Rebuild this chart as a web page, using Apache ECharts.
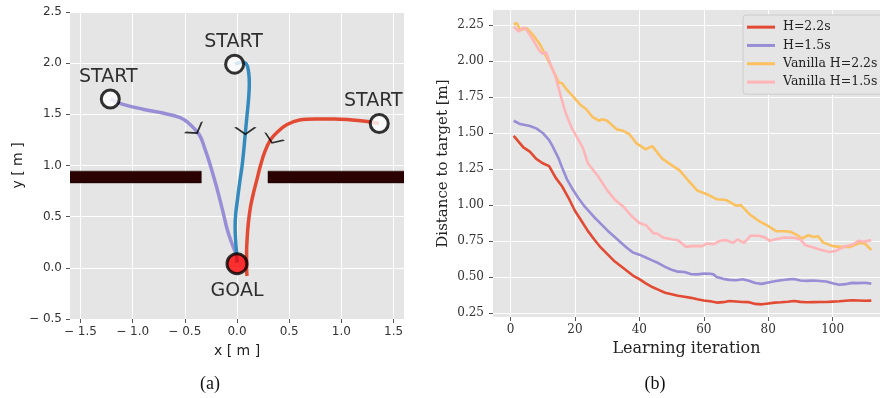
<!DOCTYPE html>
<html>
<head>
<meta charset="utf-8">
<script src="https://cdn.jsdelivr.net/npm/echarts@6.0.0/dist/echarts.min.js"></script>
<style>
html,body{margin:0;padding:0;background:#fff;}
#chart{width:880px;height:398px;}
</style>
</head>
<body>
<div id="chart"></div>
<script>
// ---------- Panel (a): trajectories ----------
var trajPurple = [[-1.21,1.65],[-1.1,1.6],[-0.9,1.55],[-0.7,1.51],[-0.55,1.47],[-0.47,1.42],[-0.4,1.35],[-0.35,1.28],[-0.31,1.17],[-0.27,1.05],[-0.215,0.86],[-0.18,0.73],[-0.135,0.55],[-0.095,0.38],[-0.05,0.24],[-0.015,0.15],[0.0,0.1]];
var trajBlue = [[-0.02,1.99],[0.05,2.01],[0.1,1.97],[0.118,1.8],[0.11,1.64],[0.095,1.48],[0.08,1.32],[0.065,1.15],[0.048,0.99],[0.025,0.83],[0.005,0.67],[-0.012,0.53],[-0.018,0.4],[-0.012,0.25],[-0.003,0.12],[0.0,0.05]];
var trajRed = [[1.36,1.41],[1.25,1.43],[1.1,1.445],[0.93,1.455],[0.75,1.455],[0.6,1.445],[0.48,1.4],[0.39,1.33],[0.32,1.25],[0.265,1.13],[0.225,1.0],[0.19,0.86],[0.16,0.74],[0.13,0.6],[0.11,0.45],[0.098,0.3],[0.092,0.15],[0.092,0.0],[0.096,-0.08]];
var startPoints = [[-1.214,1.65],[-0.023,1.99],[1.363,1.41]];
var goalPoint = [[0.0,0.04]];
var arrowMarks = [[-0.40,1.346,32],[0.08,1.34,0],[0.348,1.253,-22]]; // x, y, heading
var walls = [[-1.7,-0.342,0.83,0.945],[0.297,1.7,0.83,0.945]]; // x0, x1, y0, y1
var aXTicks = [-1.5,-1.0,-0.5,0.0,0.5,1.0,1.5];

// ---------- Panel (b): learning curves ----------
var seriesNames = ['H=2.2s','H=1.5s','Vanilla H=2.2s','Vanilla H=1.5s'];
var redH22 = [[1,1.48],[4,1.40],[6,1.37],[8,1.32],[10,1.29],[12,1.27],[14,1.19],[16,1.13],[18,1.05],[20,0.96],[22,0.89],[24,0.82],[26,0.76],[28,0.705],[30,0.66],[32,0.615],[34,0.58],[36,0.545],[38,0.51],[40,0.485],[42,0.455],[44,0.43],[46,0.41],[48,0.39],[50,0.38],[52,0.37],[54,0.363],[56,0.355],[58,0.345],[60,0.337],[62,0.331],[64,0.322],[66,0.325],[68,0.333],[70,0.33],[72,0.326],[74,0.325],[76,0.313],[78,0.31],[80,0.316],[82,0.322],[84,0.324],[86,0.328],[88,0.333],[90,0.327],[92,0.324],[94,0.325],[96,0.326],[98,0.326],[100,0.329],[102,0.331],[104,0.335],[106,0.338],[108,0.337],[110,0.335],[112,0.336]];
var purpleH15 = [[1,1.585],[3,1.562],[6,1.548],[8,1.532],[10,1.50],[12,1.45],[13,1.41],[15,1.32],[16,1.26],[17.5,1.18],[19,1.12],[21,1.05],[23,0.99],[26,0.915],[28,0.87],[30,0.825],[32,0.785],[34,0.745],[36,0.705],[38,0.67],[40,0.655],[42,0.635],[44,0.615],[46,0.595],[48,0.57],[50,0.55],[52,0.537],[54,0.535],[56,0.52],[58,0.518],[60,0.523],[62,0.522],[63,0.518],[64,0.50],[66,0.487],[68,0.48],[70,0.477],[72,0.484],[74,0.474],[76,0.458],[78,0.452],[80,0.462],[82,0.47],[84,0.477],[86,0.483],[88,0.486],[90,0.476],[92,0.473],[94,0.476],[96,0.472],[98,0.468],[100,0.456],[102,0.446],[104,0.45],[106,0.459],[108,0.457],[110,0.46],[112,0.454]];
var orangeV22 = [[1,2.255],[2,2.262],[3,2.216],[5,2.228],[7,2.181],[9,2.12],[11,2.035],[13,1.945],[15,1.85],[16,1.845],[17.5,1.80],[19.5,1.752],[21.5,1.70],[23.5,1.665],[25.5,1.61],[27.5,1.585],[28.5,1.595],[30,1.585],[33,1.525],[35,1.515],[37,1.49],[39,1.43],[42,1.386],[44,1.409],[47,1.324],[50,1.277],[52.5,1.24],[55,1.175],[58,1.10],[61.5,1.069],[64,1.04],[67,1.034],[70,0.995],[71.5,0.999],[74.5,0.93],[77,0.89],[79.5,0.86],[82.5,0.818],[85,0.818],[87,0.813],[89,0.79],[90.5,0.767],[92.5,0.79],[94,0.778],[95.5,0.783],[97,0.74],[100,0.714],[102.5,0.709],[105.5,0.709],[108.5,0.737],[110,0.733],[112,0.686]];
var pinkV15 = [[1,2.24],[2.5,2.204],[4,2.232],[5,2.216],[7,2.147],[9,2.07],[10,2.05],[11,2.061],[12.5,1.972],[14,1.89],[15.5,1.764],[17,1.648],[19,1.535],[21,1.455],[22.5,1.395],[24,1.29],[27,1.205],[30,1.103],[32.5,1.034],[35,0.99],[37.5,0.925],[40,0.875],[42,0.86],[44.5,0.802],[45.5,0.802],[47.5,0.772],[50.5,0.76],[52,0.755],[54.5,0.709],[57,0.716],[59.5,0.714],[61,0.733],[63,0.728],[65,0.751],[67,0.756],[69,0.737],[70.5,0.76],[72.5,0.737],[74.5,0.786],[77,0.786],[79,0.775],[80.5,0.751],[82,0.76],[85,0.774],[88,0.772],[90,0.76],[91.5,0.721],[94,0.705],[96,0.691],[99,0.674],[101,0.681],[103.5,0.709],[106.5,0.728],[108,0.751],[109.5,0.744],[112,0.756]];
var bXTicks = [0,20,40,60,80,100];
var bYTicks = [0.25,0.5,0.75,1.0,1.25,1.5,1.75,2.0,2.25];

var C_RED='#E24A33', C_PURPLE='#988ED5', C_BLUE='#348ABD', C_ORANGE='#FBC15E', C_PINK='#FFB5B8';
var BG='#E5E5E5';
var SANS='DejaVu Sans', SERIF='DejaVu Serif';

function fmtA(v){ return v < 0 ? '\u2212 ' + Math.abs(v).toFixed(1) : v.toFixed(1); }

var chart = echarts.init(document.getElementById('chart'), null, {renderer:'canvas'});

var startLabelOffsets = [[-2,0],[-1,0],[-6,0]];
var gridLineStyle = {color:'#fff', width:1, type:'solid'};

function vGrid(vals){ return vals.map(function(v){ return {xAxis:v}; }); }
function hGrid(vals){ return vals.map(function(v){ return {yAxis:v}; }); }

var option = {
  animation:false,
  backgroundColor:'#fff',
  grid:[
    {left:70, top:12, width:334, height:307, show:true, backgroundColor:BG, borderWidth:0},
    {left:493, top:10, right:0, height:307, show:true, backgroundColor:BG, borderWidth:0}
  ],
  xAxis:[
    {gridIndex:0, type:'value', min:-1.6, max:1.6,
      name:'x [ m ]', nameLocation:'middle', nameGap:25,
      nameTextStyle:{fontFamily:SANS, fontSize:14, color:'#222'},
      axisLine:{show:false, onZero:false},
      axisTick:{show:true, length:4, lineStyle:{color:'#555'}, customValues:aXTicks},
      axisLabel:{fontFamily:SANS, fontSize:12, color:'#333', margin:7, formatter:fmtA, customValues:aXTicks},
      splitLine:{show:false}
    },
    {gridIndex:1, type:'value', min:-5.43, max:114.7,
      name:'Learning iteration', nameLocation:'middle', nameGap:23,
      nameTextStyle:{fontFamily:SERIF, fontSize:16, color:'#222'},
      axisLine:{show:false, onZero:false},
      axisTick:{show:true, length:4, lineStyle:{color:'#555'}, customValues:bXTicks},
      axisLabel:{fontFamily:SERIF, fontSize:12, color:'#333', margin:7, customValues:bXTicks},
      splitLine:{show:false}
    }
  ],
  yAxis:[
    {gridIndex:0, type:'value', min:-0.5, max:2.5, interval:0.5,
      name:'y [ m ]', nameLocation:'middle', nameGap:45, nameRotate:90,
      nameTextStyle:{fontFamily:SANS, fontSize:14, color:'#222'},
      axisLine:{show:false, onZero:false},
      axisTick:{show:true, length:4, lineStyle:{color:'#555'}},
      axisLabel:{fontFamily:SANS, fontSize:12, color:'#333', margin:8, formatter:fmtA},
      splitLine:{show:true, lineStyle:gridLineStyle}
    },
    {gridIndex:1, type:'value', min:0.222, max:2.354,
      name:'Distance to target [m]', nameLocation:'middle', nameGap:42, nameRotate:90,
      nameTextStyle:{fontFamily:SERIF, fontSize:15, color:'#222'},
      axisLine:{show:false, onZero:false},
      axisTick:{show:true, length:4, lineStyle:{color:'#555'}, customValues:bYTicks},
      axisLabel:{fontFamily:SERIF, fontSize:12, color:'#333', margin:9, customValues:bYTicks,
        formatter:function(v){return v.toFixed(2);}},
      splitLine:{show:false}
    }
  ],
  legend:{
    data:seriesNames, left:743, top:15, orient:'vertical', z:20,
    icon:'rect', itemWidth:28, itemHeight:3, itemGap:4,
    padding:[5,10,5,4],
    backgroundColor:'#E5E5E5', borderColor:'#cccccc', borderWidth:1, borderRadius:3,
    textStyle:{fontFamily:SERIF, fontSize:12.5, color:'#222', lineHeight:14.3, padding:[0,0,0,3]}
  },
  graphic:[
    {type:'text', style:{text:'(a)', x:210, y:384, fontFamily:'Liberation Serif', fontSize:18, fill:'#111', textAlign:'center', textVerticalAlign:'middle'}},
    {type:'text', style:{text:'(b)', x:655, y:384, fontFamily:'Liberation Serif', fontSize:18, fill:'#111', textAlign:'center', textVerticalAlign:'middle'}}
  ],
  series:[
    {type:'custom', xAxisIndex:0, yAxisIndex:0, data:walls, clip:true, z:1,
      renderItem:function(params, api){
        var p0 = api.coord([api.value(0), api.value(3)]);
        var p1 = api.coord([api.value(1), api.value(2)]);
        var cs = params.coordSys;
        var x0 = Math.max(p0[0], cs.x), x1 = Math.min(p1[0], cs.x + cs.width);
        return {type:'rect', shape:{x:x0, y:p0[1], width:x1-x0, height:p1[1]-p0[1]},
          style:{fill:'#2b0000', stroke:'#1a0000', lineWidth:0.5}};
      },
      markLine:{silent:true, symbol:'none', label:{show:false}, lineStyle:gridLineStyle, animation:false, z:0,
        data:vGrid(aXTicks)}
    },
    {type:'line', xAxisIndex:1, yAxisIndex:1, data:[], z:0,
      markLine:{silent:true, symbol:'none', label:{show:false}, lineStyle:gridLineStyle, animation:false,
        data:vGrid(bXTicks).concat(hGrid(bYTicks))}
    },
    {type:'line', xAxisIndex:0, yAxisIndex:0, data:trajPurple, smooth:0.4, showSymbol:false, lineStyle:{color:C_PURPLE, width:3.5}, z:2},
    {type:'line', xAxisIndex:0, yAxisIndex:0, data:trajBlue, smooth:0.4, showSymbol:false, lineStyle:{color:C_BLUE, width:3.5}, z:2},
    {type:'line', xAxisIndex:0, yAxisIndex:0, data:trajRed, smooth:0.4, showSymbol:false, lineStyle:{color:C_RED, width:3.5}, z:2},
    {type:'scatter', xAxisIndex:0, yAxisIndex:0, z:3,
      data:arrowMarks.map(function(a){ return {value:[a[0],a[1]], symbolRotate:a[2]}; }),
      symbol:'path://M0,0 L10,7 L20,0', symbolSize:[20,7],
      itemStyle:{color:'none', borderColor:'#000', borderWidth:1.6}},
    {type:'scatter', xAxisIndex:0, yAxisIndex:0, z:4,
      data:startPoints.map(function(p,i){ return {value:p, label:{offset:startLabelOffsets[i]}}; }),
      symbol:'circle', symbolSize:18,
      itemStyle:{color:'#fff', borderColor:'#000', borderWidth:3},
      label:{show:true, formatter:'START', position:'top', distance:2, fontFamily:SANS, fontSize:19, color:'#000'}},
    {type:'scatter', xAxisIndex:0, yAxisIndex:0, z:4, data:goalPoint,
      symbol:'circle', symbolSize:20,
      itemStyle:{color:'#ff0000', borderColor:'#000', borderWidth:3},
      label:{show:true, formatter:'GOAL', position:'bottom', distance:6, fontFamily:SANS, fontSize:19, color:'#000'}},

    {name:seriesNames[0], type:'line', xAxisIndex:1, yAxisIndex:1, data:redH22, showSymbol:false, lineStyle:{color:C_RED, width:2.6}, itemStyle:{color:C_RED}, z:5},
    {name:seriesNames[1], type:'line', xAxisIndex:1, yAxisIndex:1, data:purpleH15, showSymbol:false, lineStyle:{color:C_PURPLE, width:2.6}, itemStyle:{color:C_PURPLE}, z:5},
    {name:seriesNames[2], type:'line', xAxisIndex:1, yAxisIndex:1, data:orangeV22, showSymbol:false, lineStyle:{color:C_ORANGE, width:2.6}, itemStyle:{color:C_ORANGE}, z:5},
    {name:seriesNames[3], type:'line', xAxisIndex:1, yAxisIndex:1, data:pinkV15, showSymbol:false, lineStyle:{color:C_PINK, width:2.6}, itemStyle:{color:C_PINK}, z:5}
  ]
};
chart.setOption(option);
</script>
</body>
</html>
